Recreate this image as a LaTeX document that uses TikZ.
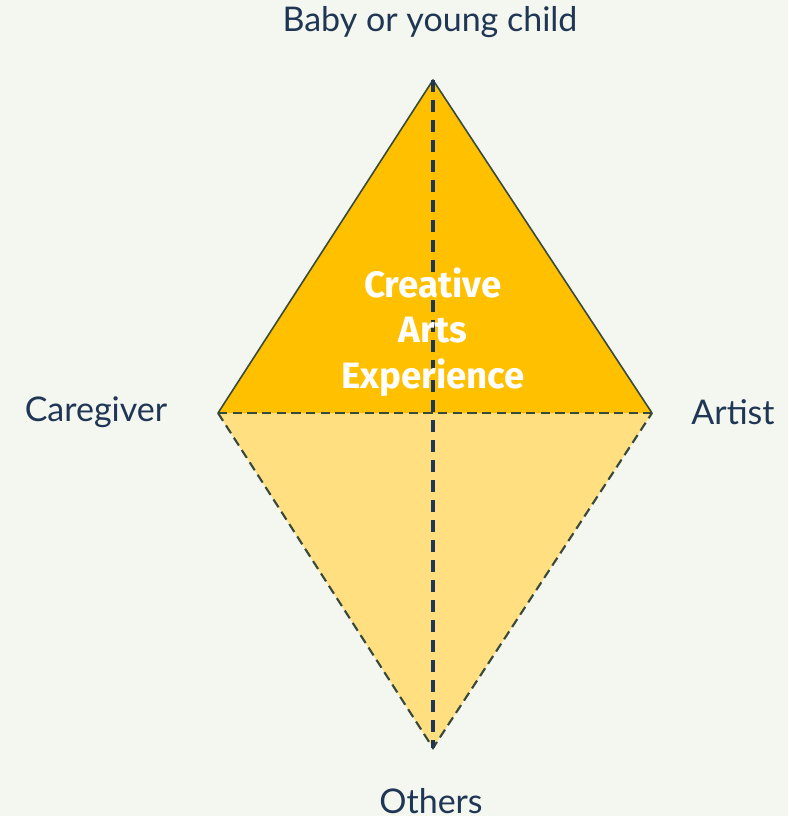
\documentclass[tikz,border=0pt]{standalone}
\usepackage{fontspec}
\setmainfont{Lato}
\newfontfamily\boldfont{Fira Sans}
\definecolor{bgcol}{HTML}{F4F7EF}
\definecolor{gold}{HTML}{FFC000}
\definecolor{lightgold}{HTML}{FFDF80}
\definecolor{navy}{HTML}{1F3654}
\definecolor{edgecol}{HTML}{3A4A3A}
\tikzset{
  corner label/.style={color=navy,font=\fontsize{25.5}{30}\selectfont},
  edge solid/.style={draw=edgecol,line width=1.2pt,line join=round},
  edge dashed/.style={draw=edgecol,line width=1.6pt,dash pattern=on 7pt off 4pt},
  axis dashed/.style={draw=navy,line width=2.4pt,dash pattern=on 9pt off 6pt}
}
\begin{document}
\begin{tikzpicture}[x=0.75pt,y=-0.75pt]
  \fill[bgcol] (0,0) rectangle (788,816);
  \useasboundingbox (0,0) rectangle (788,816);

  % corners of the diamond
  \coordinate (top) at (433,80);
  \coordinate (left) at (218,413);
  \coordinate (right) at (652,413);
  \coordinate (bottom) at (433,748);

  \fill[lightgold] (left) -- (right) -- (bottom) -- cycle;
  \fill[gold] (left) -- (top) -- (right) -- cycle;
  \draw[edge solid] (left) -- (top) -- (right);
  \draw[edge dashed] (left) -- (bottom) -- (right);
  \draw[edge dashed] (left) -- (right);
  \draw[axis dashed] (top) -- (bottom);

  \node[corner label] (child) at (430,22) {Baby or young child};
  \node[corner label] (carer) at (96,412) {Caregiver};
  \node[corner label] (artist) at (733,412) {Artist};
  \node[corner label] (others) at (431,801) {Others};

  \node[color=white,align=center,font=\boldfont\bfseries\fontsize{27.5}{34}\selectfont] (exp) at (433,332) {Creative\\Arts\\Experience};
\end{tikzpicture}
\end{document}
